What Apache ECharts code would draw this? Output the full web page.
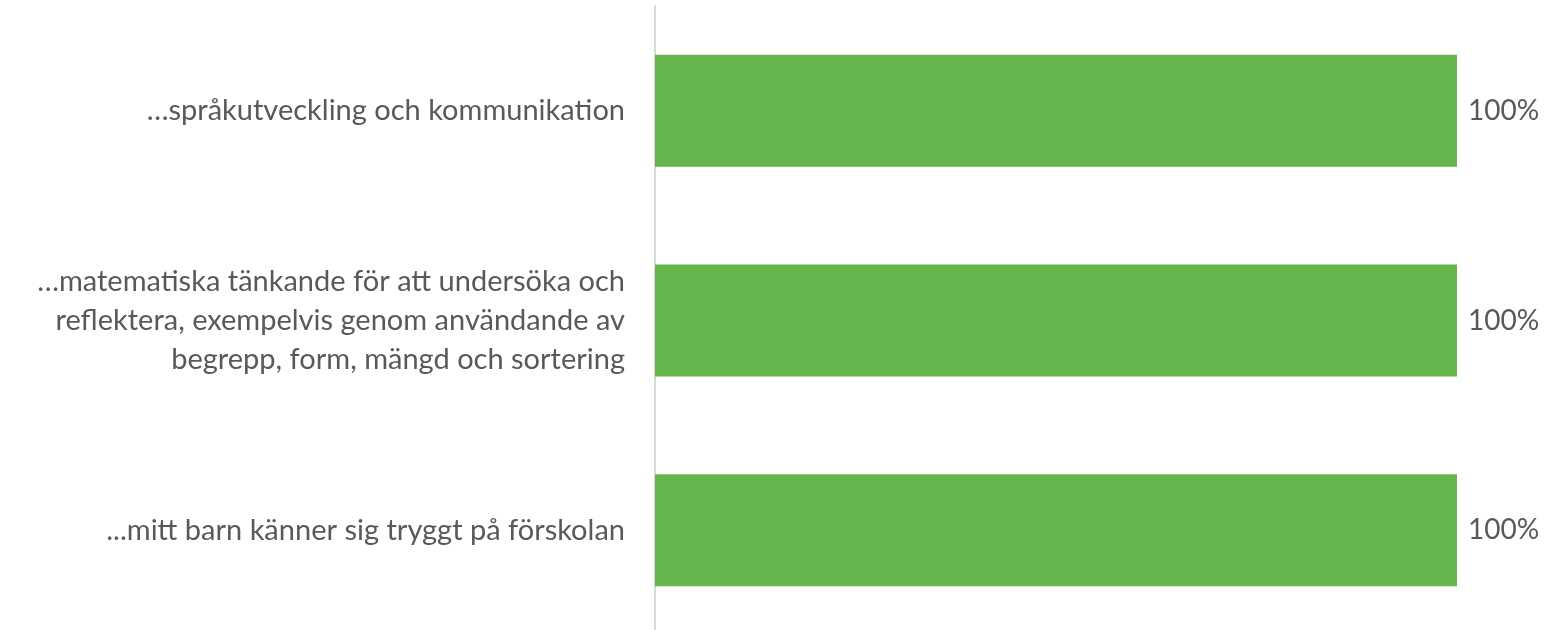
<!DOCTYPE html>
<html>
<head>
<meta charset="utf-8">
<script src="https://cdn.jsdelivr.net/npm/echarts@6/dist/echarts.min.js"></script>
<style>
  html, body { margin: 0; padding: 0; background: #fff; overflow: hidden; }
  #chart { width: 1544px; height: 635px; }
</style>
</head>
<body>
<div id="chart"></div>
<script>
// kategorier, uppifrån och ned
var categories = [
  "…språkutveckling och kommunikation",
  "…matematiska tänkande för att undersöka och\nreflektera, exempelvis genom användande av\nbegrepp, form, mängd och sortering",
  "...mitt barn känner sig tryggt på förskolan"
];
var values = [100, 100, 100];

var chart = echarts.init(document.getElementById("chart"));
chart.setOption({
  animation: false,
  grid: { left: 655, right: 87, top: 6, bottom: 0 },
  xAxis: {
    type: "value",
    min: 0,
    max: 100,
    show: false
  },
  yAxis: {
    type: "category",
    inverse: true,
    data: categories,
    axisLine: { show: true, lineStyle: { color: "#d9d9d9", width: 2 } },
    axisTick: { show: false },
    axisLabel: {
      margin: 30,
      color: "#595959",
      fontSize: 29,
      lineHeight: 39,
      fontFamily: "Lato, sans-serif",
      align: "right"
    }
  },
  series: [{
    type: "bar",
    data: values,
    barWidth: 112,
    itemStyle: { color: "#65b44c" },
    label: {
      show: true,
      position: "right",
      distance: 11,
      formatter: "{c}%",
      color: "#595959",
      fontSize: 28,
      fontFamily: "Lato, sans-serif"
    }
  }]
});
</script>
</body>
</html>
